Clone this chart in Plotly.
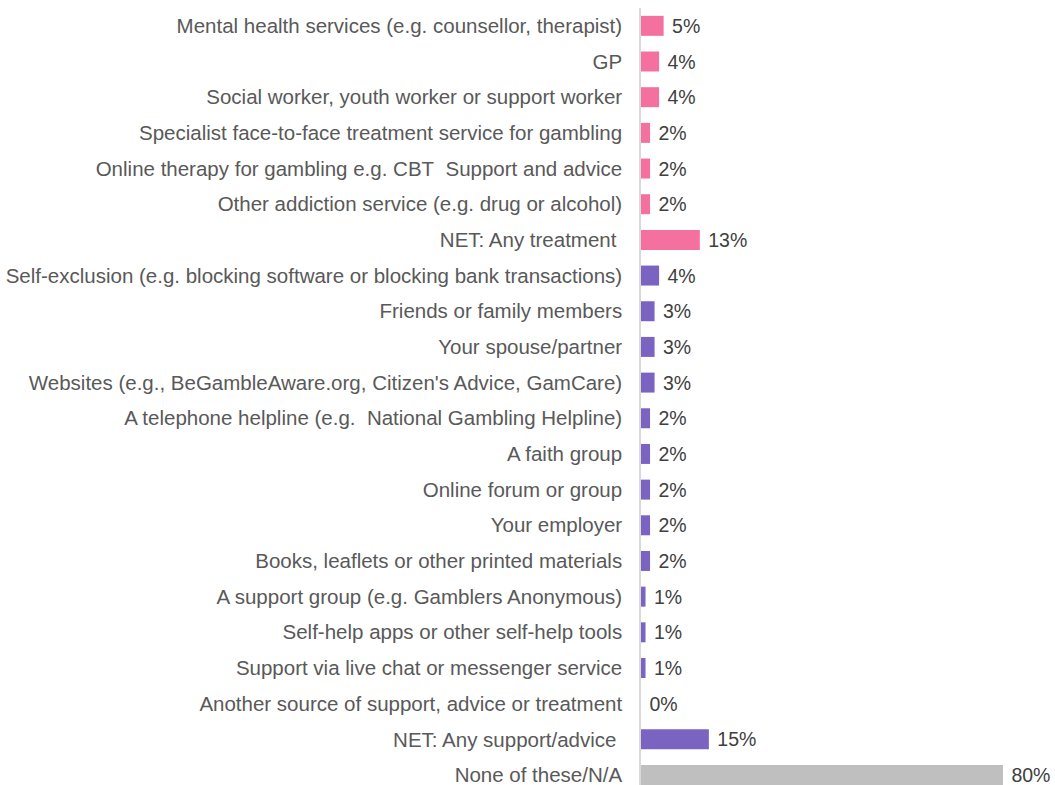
import plotly.graph_objects as go

# Sources of support, advice or treatment (share of respondents, %)
categories = [
    "Mental health services (e.g. counsellor, therapist)",
    "GP",
    "Social worker, youth worker or support worker",
    "Specialist face-to-face treatment service for gambling",
    "Online therapy for gambling e.g. CBT\u00a0 Support and advice",
    "Other addiction service (e.g. drug or alcohol)",
    "NET: Any treatment\u00a0",
    "Self-exclusion (e.g. blocking software or blocking bank transactions)",
    "Friends or family members",
    "Your spouse/partner",
    "Websites (e.g., BeGambleAware.org, Citizen's Advice, GamCare)",
    "A telephone helpline (e.g.\u00a0 National Gambling Helpline)",
    "A faith group",
    "Online forum or group",
    "Your employer",
    "Books, leaflets or other printed materials",
    "A support group (e.g. Gamblers Anonymous)",
    "Self-help apps or other self-help tools",
    "Support via live chat or messenger service",
    "Another source of support, advice or treatment",
    "NET: Any support/advice\u00a0",
    "None of these/N/A",
]
values = [5, 4, 4, 2, 2, 2, 13, 4, 3, 3, 3, 2, 2, 2, 2, 2, 1, 1, 1, 0, 15, 80]
groups = ["treatment"] * 7 + ["support"] * 14 + ["none"]

group_colors = {"treatment": "#F3709F", "support": "#7B63C1", "none": "#BFBFBF"}
bar_colors = [group_colors[g] for g in groups]

FONT = "Liberation Sans, Arial, sans-serif"

fig = go.Figure(
    go.Bar(
        x=values,
        y=list(range(len(categories))),
        orientation="h",
        marker=dict(color=bar_colors, line=dict(width=0)),
        width=0.56,
        text=[f"{v}%" for v in values],
        textposition="outside",
        texttemplate="\u00a0%{text}",
        textfont=dict(family=FONT, size=19.5, color="#404040"),
        constraintext="none",
        cliponaxis=False,
        hoverinfo="skip",
    )
)

fig.update_layout(
    width=1055,
    height=785,
    margin=dict(l=641, r=52, t=8, b=0),
    plot_bgcolor="white",
    paper_bgcolor="white",
    showlegend=False,
    font=dict(family=FONT, size=20, color="#595959"),
)
fig.update_xaxes(
    range=[0, 80],
    showgrid=False,
    zeroline=False,
    showticklabels=False,
    showline=False,
    fixedrange=True,
)
fig.update_yaxes(
    tickmode="array",
    tickvals=list(range(len(categories))),
    ticktext=categories,
    range=[21.28, -0.5],
    showgrid=False,
    zeroline=False,
    showline=True,
    linecolor="#D9D9D9",
    linewidth=1.5,
    ticks="",
    ticklabelstandoff=13,
    ticklabeloverflow="allow",
    tickfont=dict(family=FONT, size=20.5, color="#595959"),
    fixedrange=True,
)

fig.write_html("out.html")
